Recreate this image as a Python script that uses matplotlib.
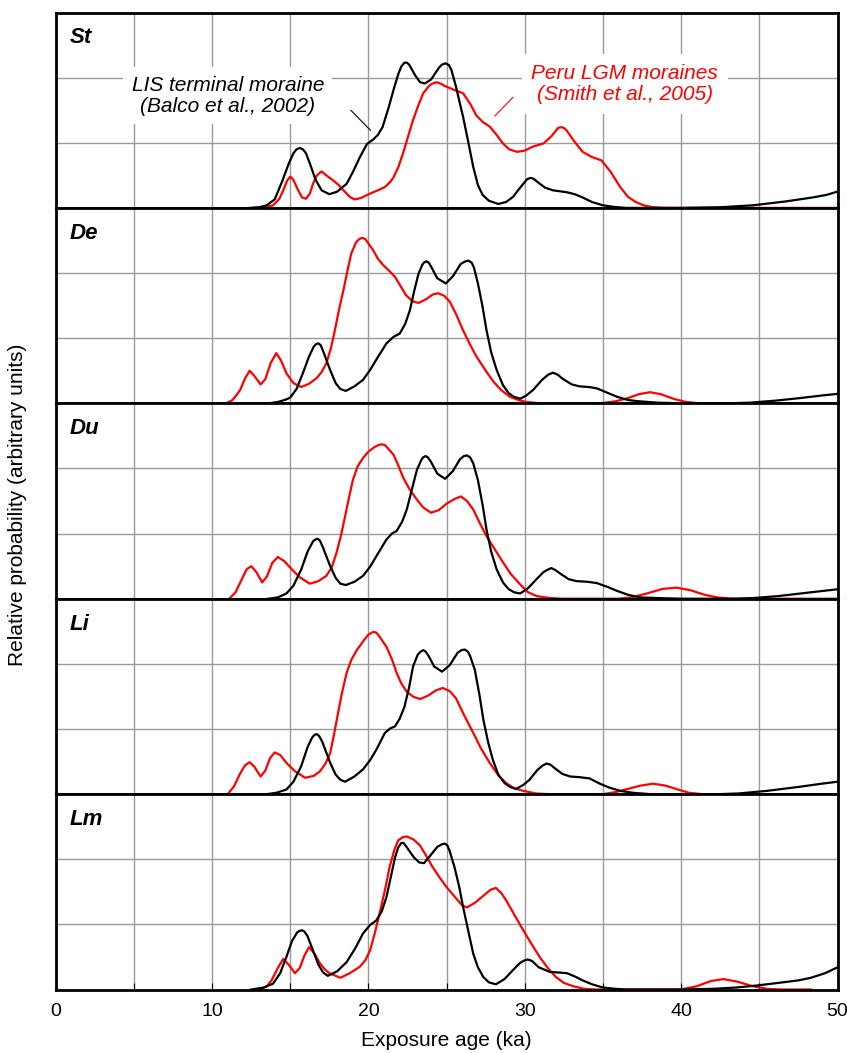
import matplotlib
matplotlib.use('Agg')
import matplotlib.pyplot as plt
from matplotlib.ticker import MultipleLocator

plt.rcParams['font.family'] = ['Liberation Sans', 'DejaVu Sans']

# panel names, top to bottom
panels = ['St', 'De', 'Du', 'Li', 'Lm']

# ---- St ----
st_black_x = [12.4, 13.0, 13.5, 14.0, 14.5, 14.9, 15.2, 15.4, 15.6, 15.8, 16.0, 16.3, 16.6, 17.0, 17.5,
              18.0, 18.6, 19.0, 19.45, 19.9, 20.3, 20.6, 20.9, 21.3, 21.6, 21.9, 22.1, 22.3, 22.45, 22.6,
              23.0, 23.3, 23.6, 24.0, 24.5, 24.7, 24.95, 25.15, 25.3, 25.6, 25.85, 26.05, 26.4, 26.7,
              27.0, 27.3, 27.7, 28.3, 28.8, 29.25, 29.6, 29.9, 30.15, 30.35, 30.55, 30.8, 31.3, 31.8,
              32.7, 33.2, 33.7, 34.3, 35.0, 35.7, 36.5, 40.0, 42.5, 44.6, 46.7, 48.4, 49.3, 50.0]
st_black_y = [0.0, 0.01, 0.04, 0.13, 0.42, 0.68, 0.84, 0.90, 0.92, 0.90, 0.84, 0.65, 0.44, 0.27, 0.21,
              0.25, 0.37, 0.55, 0.78, 0.98, 1.05, 1.12, 1.24, 1.55, 1.81, 2.05, 2.17, 2.23, 2.23, 2.20,
              2.03, 1.93, 1.91, 1.97, 2.15, 2.20, 2.22, 2.19, 2.12, 1.86, 1.60, 1.40, 0.99, 0.63,
              0.35, 0.20, 0.11, 0.06, 0.09, 0.17, 0.28, 0.37, 0.44, 0.46, 0.45, 0.40, 0.31, 0.27,
              0.24, 0.21, 0.16, 0.09, 0.04, 0.015, 0.0, 0.0, 0.01, 0.04, 0.10, 0.16, 0.20, 0.25]
st_red_x = [12.6, 13.4, 13.9, 14.3, 14.55, 14.8, 15.0, 15.2, 15.5, 15.75, 16.0, 16.25, 16.45, 16.7, 17.0,
            17.3, 17.75, 18.1, 18.4, 18.8, 19.1, 19.5, 20.1, 20.6, 21.05, 21.4, 21.6, 21.9, 22.2, 22.5,
            22.85, 23.2, 23.5, 23.9, 24.1, 24.35, 24.6, 24.9, 25.4, 26.05, 26.5, 26.9, 27.3, 27.75, 28.2,
            28.6, 29.0, 29.5, 30.0, 30.5, 31.2, 31.7, 32.0, 32.15, 32.35, 32.55, 32.7, 33.2, 33.7, 34.3,
            34.9, 35.5, 36.1, 36.6, 37.1, 37.6, 38.2, 39.0, 50.0]
st_red_y = [0.0, 0.01, 0.04, 0.14, 0.27, 0.42, 0.48, 0.43, 0.27, 0.16, 0.14, 0.22, 0.37, 0.50, 0.56,
            0.50, 0.42, 0.35, 0.27, 0.17, 0.13, 0.15, 0.22, 0.27, 0.32, 0.40, 0.47, 0.62, 0.83, 1.07,
            1.35, 1.58, 1.76, 1.88, 1.91, 1.93, 1.91, 1.87, 1.82, 1.76, 1.60, 1.42, 1.32, 1.25, 1.12,
            0.99, 0.90, 0.86, 0.88, 0.94, 0.99, 1.10, 1.19, 1.23, 1.24, 1.22, 1.18, 1.01, 0.86, 0.78,
            0.73, 0.55, 0.32, 0.17, 0.09, 0.04, 0.01, 0.0, 0.0]

# ---- De ----
de_black_x = [13.6, 14.2, 14.75, 15.0, 15.4, 15.8, 16.2, 16.5, 16.65, 16.8, 16.95, 17.1, 17.55, 17.9, 18.2,
              18.55, 19.1, 19.65, 20.1, 20.5, 21.15, 21.6, 22.0, 22.35, 22.65, 22.95, 23.2, 23.45, 23.55,
              23.7, 23.85, 24.0, 24.4, 24.95, 25.4, 25.9, 26.2, 26.4, 26.6, 26.75, 27.0, 27.3, 27.55,
              27.85, 28.2, 28.6, 28.95, 29.3, 29.7, 30.1, 30.55, 31.1, 31.5, 31.8, 32.1, 32.4, 33.0, 33.5,
              34.1, 34.6, 35.3, 35.9, 36.6, 37.35, 38.5, 40.0, 43.0, 44.4, 46.0, 47.6, 49.0, 50.0]
de_black_y = [0.0, 0.02, 0.06, 0.09, 0.22, 0.46, 0.72, 0.87, 0.91, 0.92, 0.89, 0.80, 0.51, 0.31, 0.22,
              0.19, 0.26, 0.36, 0.51, 0.67, 0.92, 1.02, 1.07, 1.22, 1.43, 1.75, 1.99, 2.13, 2.16,
              2.18, 2.16, 2.10, 1.92, 1.84, 1.95, 2.14, 2.18, 2.19, 2.16, 2.08, 1.84, 1.48, 1.12,
              0.78, 0.51, 0.28, 0.16, 0.10, 0.07, 0.12, 0.21, 0.36, 0.44, 0.47, 0.44, 0.38, 0.29, 0.26,
              0.25, 0.23, 0.16, 0.10, 0.05, 0.03, 0.01, 0.0, 0.0, 0.01, 0.04, 0.08, 0.12, 0.145]
de_red_x = [10.9, 11.3, 11.6, 11.8, 12.1, 12.4, 12.7, 13.1, 13.4, 13.75, 14.1, 14.4, 14.75, 15.2, 15.7,
            16.2, 16.7, 17.0, 17.3, 17.6, 17.85, 18.1, 18.4, 18.65, 18.9, 19.2, 19.4, 19.6, 19.8, 19.95,
            20.3, 20.6, 20.95, 21.3, 21.7, 22.05, 22.4, 22.8, 23.2, 23.7, 24.1, 24.45, 24.85, 25.2, 25.6,
            26.05, 26.5, 26.9, 27.5, 28.0, 28.5, 29.05, 29.6, 30.1, 31.0, 34.8, 35.8, 36.6, 37.3, 38.0,
            38.7, 39.5, 40.3, 41.2, 50.0]
de_red_y = [0.0, 0.05, 0.14, 0.21, 0.38, 0.50, 0.42, 0.29, 0.37, 0.62, 0.77, 0.66, 0.46, 0.31, 0.25,
            0.30, 0.39, 0.48, 0.61, 0.85, 1.12, 1.42, 1.74, 2.03, 2.30, 2.47, 2.52, 2.54, 2.52, 2.47,
            2.35, 2.22, 2.12, 2.04, 1.94, 1.80, 1.66, 1.57, 1.54, 1.60, 1.67, 1.69, 1.65, 1.56, 1.37,
            1.12, 0.90, 0.72, 0.50, 0.33, 0.20, 0.10, 0.05, 0.02, 0.0, 0.0, 0.03, 0.08, 0.14, 0.17,
            0.14, 0.07, 0.02, 0.0, 0.0]

# ---- Du ----
du_black_x = [13.6, 14.2, 14.75, 15.2, 15.7, 16.1, 16.45, 16.6, 16.75, 16.9, 17.1, 17.55, 17.9, 18.2, 18.55,
              19.1, 19.65, 20.1, 20.5, 21.15, 21.5, 21.8, 22.15, 22.45, 22.8, 23.1, 23.4, 23.5, 23.65,
              23.8, 24.0, 24.4, 24.9, 25.4, 25.85, 26.1, 26.3, 26.5, 26.7, 27.0, 27.3, 27.55, 27.85,
              28.2, 28.6, 28.95, 29.3, 29.7, 30.2, 30.75, 31.2, 31.5, 31.7, 31.95, 32.3, 32.8, 33.3,
              34.0, 34.6, 35.3, 35.9, 36.6, 37.35, 38.5, 40.0, 43.5, 44.6, 46.2, 48.0, 50.0]
du_black_y = [0.0, 0.02, 0.08, 0.20, 0.45, 0.72, 0.88, 0.91, 0.92, 0.89, 0.78, 0.50, 0.32, 0.23, 0.21,
              0.26, 0.35, 0.49, 0.65, 0.91, 1.00, 1.04, 1.18, 1.37, 1.70, 1.98, 2.14, 2.17, 2.19,
              2.17, 2.10, 1.92, 1.84, 1.96, 2.14, 2.19, 2.20, 2.17, 2.08, 1.82, 1.44, 1.06, 0.72,
              0.45, 0.25, 0.15, 0.10, 0.08, 0.16, 0.30, 0.41, 0.45, 0.47, 0.44, 0.38, 0.30, 0.27,
              0.26, 0.24, 0.18, 0.12, 0.06, 0.02, 0.01, 0.0, 0.0, 0.01, 0.04, 0.09, 0.145]
du_red_x = [11.1, 11.5, 11.9, 12.2, 12.5, 12.85, 13.2, 13.5, 13.85, 14.2, 14.6, 15.1, 15.6, 16.25, 16.8,
            17.3, 17.65, 17.95, 18.25, 18.5, 18.75, 19.0, 19.3, 19.65, 20.0, 20.4, 20.65, 20.85, 21.05,
            21.2, 21.6, 21.9, 22.2, 22.6, 23.1, 23.5, 24.0, 24.5, 25.0, 25.5, 25.9, 26.3, 26.7, 27.1,
            27.55, 28.1, 28.6, 29.1, 29.7, 30.2, 30.75, 31.6, 32.5, 36.0, 36.8, 37.8, 38.8, 39.7, 40.6,
            41.5, 42.3, 43.2, 50.0]
du_red_y = [0.0, 0.10, 0.30, 0.45, 0.50, 0.40, 0.25, 0.34, 0.55, 0.64, 0.58, 0.45, 0.33, 0.23, 0.27,
            0.35, 0.48, 0.70, 0.98, 1.26, 1.55, 1.82, 2.03, 2.16, 2.26, 2.33, 2.36, 2.37, 2.36,
            2.32, 2.21, 2.05, 1.87, 1.69, 1.52, 1.40, 1.32, 1.36, 1.46, 1.53, 1.57, 1.50, 1.37, 1.17,
            0.96, 0.75, 0.56, 0.38, 0.22, 0.10, 0.04, 0.01, 0.0, 0.0, 0.02, 0.08, 0.15, 0.17, 0.13,
            0.06, 0.02, 0.0, 0.0]

# ---- Li ----
li_black_x = [13.5, 14.1, 14.75, 15.2, 15.7, 16.1, 16.4, 16.55, 16.7, 16.85, 17.05, 17.55, 17.9, 18.2, 18.5,
              19.1, 19.65, 20.1, 20.5, 21.05, 21.4, 21.7, 22.0, 22.3, 22.6, 22.85, 23.15, 23.35, 23.5,
              23.65, 23.85, 24.2, 24.7, 25.2, 25.7, 25.95, 26.15, 26.35, 26.5, 26.8, 27.1, 27.35, 27.65,
              27.95, 28.3, 28.7, 29.05, 29.45, 29.9, 30.3, 30.8, 31.15, 31.4, 31.65, 31.9, 32.4, 32.9,
              33.5, 34.15, 34.8, 35.4, 36.1, 36.9, 38.0, 42.5, 43.7, 45.5, 47.5, 49.0, 50.0]
li_black_y = [0.0, 0.02, 0.07, 0.19, 0.43, 0.72, 0.87, 0.91, 0.92, 0.89, 0.80, 0.48, 0.30, 0.22, 0.19,
              0.27, 0.38, 0.52, 0.68, 0.94, 1.01, 1.04, 1.16, 1.34, 1.64, 1.96, 2.14, 2.19, 2.21,
              2.19, 2.12, 1.96, 1.88, 1.98, 2.17, 2.21, 2.22, 2.19, 2.12, 1.91, 1.52, 1.14, 0.80,
              0.53, 0.30, 0.17, 0.11, 0.08, 0.14, 0.22, 0.37, 0.44, 0.47, 0.45, 0.40, 0.31, 0.27,
              0.26, 0.24, 0.16, 0.10, 0.05, 0.02, 0.0, 0.0, 0.01, 0.05, 0.11, 0.16, 0.19]
li_red_x = [11.0, 11.4, 11.8, 12.1, 12.4, 12.7, 13.1, 13.4, 13.7, 14.0, 14.35, 14.75, 15.3, 15.95, 16.5,
            16.9, 17.25, 17.55, 17.8, 18.05, 18.3, 18.6, 18.9, 19.25, 19.7, 20.0, 20.3, 20.5, 20.7, 21.15,
            21.5, 21.8, 22.1, 22.45, 22.9, 23.3, 23.8, 24.3, 24.75, 25.2, 25.6, 26.1, 26.7, 27.2, 27.75,
            28.3, 28.8, 29.3, 29.9, 30.7, 31.5, 35.0, 35.8, 36.6, 37.4, 38.2, 39.0, 39.8, 40.5, 41.3, 50.0]
li_red_y = [0.0, 0.12, 0.32, 0.44, 0.49, 0.42, 0.27, 0.36, 0.55, 0.64, 0.60, 0.48, 0.35, 0.25, 0.28,
            0.35, 0.47, 0.63, 0.92, 1.24, 1.55, 1.86, 2.06, 2.21, 2.36, 2.45, 2.49, 2.48, 2.42, 2.26,
            2.07, 1.86, 1.70, 1.57, 1.49, 1.46, 1.51, 1.59, 1.63, 1.58, 1.47, 1.22, 0.94, 0.70, 0.48,
            0.29, 0.17, 0.09, 0.05, 0.01, 0.0, 0.0, 0.03, 0.08, 0.13, 0.16, 0.13, 0.07, 0.02, 0.0, 0.0]

# ---- Lm ----
lm_black_x = [12.5, 13.3, 13.9, 14.35, 14.75, 15.1, 15.45, 15.6, 15.75, 15.9, 16.1, 16.45, 16.8, 17.1, 17.4,
              18.0, 18.6, 19.15, 19.65, 20.1, 20.5, 20.85, 21.15, 21.45, 21.7, 21.9, 22.1, 22.25, 22.4,
              22.9, 23.25, 23.55, 23.9, 24.4, 24.7, 24.9, 25.05, 25.2, 25.5, 25.8, 26.05, 26.4, 26.7,
              27.0, 27.35, 27.7, 28.15, 28.7, 29.25, 29.7, 30.0, 30.2, 30.45, 30.9, 31.6, 32.2, 32.7,
              33.2, 33.7, 34.3, 35.0, 35.8, 36.5, 40.0, 42.0, 43.5, 44.8, 46.5, 47.5, 48.3, 49.2, 50.0]
lm_black_y = [0.0, 0.03, 0.09, 0.25, 0.50, 0.74, 0.88, 0.90, 0.91, 0.89, 0.82, 0.60, 0.38, 0.26, 0.21,
              0.28, 0.42, 0.63, 0.86, 0.99, 1.06, 1.20, 1.42, 1.75, 2.03, 2.18, 2.25, 2.25, 2.20,
              2.03, 1.95, 1.94, 2.04, 2.19, 2.23, 2.24, 2.21, 2.12, 1.88, 1.58, 1.27, 0.88, 0.55,
              0.34, 0.19, 0.11, 0.08, 0.16, 0.30, 0.41, 0.45, 0.46, 0.44, 0.34, 0.27, 0.26, 0.25,
              0.20, 0.14, 0.08, 0.03, 0.01, 0.0, 0.0, 0.01, 0.03, 0.06, 0.11, 0.14, 0.18, 0.25, 0.34]
lm_red_x = [13.05, 13.5, 13.8, 14.2, 14.55, 14.9, 15.3, 15.6, 15.9, 16.2, 16.55, 16.9, 17.2, 17.5, 18.2,
            18.8, 19.45, 19.8, 20.1, 20.4, 20.7, 21.05, 21.35, 21.65, 21.9, 22.2, 22.45, 22.9, 23.3,
            23.7, 24.1, 24.55, 25.0, 25.6, 26.0, 26.3, 26.8, 27.35, 27.8, 28.15, 28.5, 28.8, 29.3, 29.9,
            30.4, 30.95, 31.5, 32.0, 32.5, 33.1, 33.8, 34.6, 40.0, 41.0, 41.9, 42.7, 43.6, 44.6, 45.5,
            46.5, 48.3]
lm_red_y = [0.0, 0.05, 0.14, 0.33, 0.47, 0.38, 0.25, 0.33, 0.52, 0.65, 0.55, 0.40, 0.31, 0.25, 0.18,
            0.25, 0.35, 0.45, 0.60, 0.86, 1.16, 1.52, 1.88, 2.14, 2.29, 2.34, 2.35, 2.30, 2.21,
            2.05, 1.88, 1.72, 1.57, 1.40, 1.29, 1.26, 1.33, 1.44, 1.53, 1.56, 1.48, 1.37, 1.16, 0.91,
            0.71, 0.50, 0.32, 0.19, 0.10, 0.05, 0.01, 0.0, 0.0, 0.05, 0.13, 0.16, 0.12, 0.05, 0.01,
            0.0, 0.0]

black_x = [st_black_x, de_black_x, du_black_x, li_black_x, lm_black_x]
black_y = [st_black_y, de_black_y, du_black_y, li_black_y, lm_black_y]
red_x = [st_red_x, de_red_x, du_red_x, li_red_x, lm_red_x]
red_y = [st_red_y, de_red_y, du_red_y, li_red_y, lm_red_y]

# annotations in the St panel (text position, leader line start/end, data coords)
lis_label = 'LIS terminal moraine\n(Balco et al., 2002)'
lis_text_pos = (11.0, 1.72)
lis_line = [(18.87, 1.50), (20.13, 1.19)]
peru_label = 'Peru LGM moraines\n(Smith et al., 2005)'
peru_text_pos = (36.4, 1.90)
peru_line = [(29.25, 1.70), (28.08, 1.41)]

GRID = '#9a9a9a'

fig = plt.figure(figsize=(8.47, 10.53), dpi=100)
left, right = 55.8 / 847, 837.5 / 847
top, bottom = 1 - 12.5 / 1053, 1 - 989.5 / 1053
h = (top - bottom) / len(panels)

axes = []
for i, name in enumerate(panels):
    ax = fig.add_axes([left, top - (i + 1) * h, right - left, h])
    axes.append(ax)
    ax.set_xlim(0, 50)
    ax.set_ylim(0, 3)
    ax.xaxis.set_major_locator(MultipleLocator(10))
    ax.xaxis.set_minor_locator(MultipleLocator(5))
    ax.set_yticks([1, 2])
    ax.set_yticklabels([])
    ax.tick_params(axis='y', length=0)
    ax.grid(True, which='both', axis='x', color=GRID, lw=1.0)
    ax.grid(True, axis='y', color=GRID, lw=1.0)
    ax.set_axisbelow(True)
    for sp in ax.spines.values():
        sp.set_linewidth(2.0)

    ax.plot(red_x[i], red_y[i], color='red', lw=1.6, solid_joinstyle='round')
    ax.plot(black_x[i], black_y[i], color='black', lw=1.6, solid_joinstyle='round')

    ax.text(0.018, 0.87, name, transform=ax.transAxes, fontsize=16, fontweight='bold',
            fontstyle='italic', ha='left', va='center')

    if i < len(panels) - 1:
        ax.tick_params(axis='x', which='both', length=0, labelbottom=False)
    else:
        ax.tick_params(axis='x', which='both', direction='in', length=5, width=0.8,
                       labelsize=14, pad=10)

st = axes[0]
st.text(*lis_text_pos, lis_label, fontsize=15, fontstyle='italic', ha='center', va='center',
        linespacing=1.15, bbox=dict(facecolor='white', edgecolor='none', pad=6), zorder=4)
st.text(*peru_text_pos, peru_label, fontsize=15, fontstyle='italic', color='red', ha='center',
        va='center', linespacing=1.15, bbox=dict(facecolor='white', edgecolor='none', pad=7), zorder=4)
st.annotate('', xy=lis_line[1], xytext=lis_line[0],
            arrowprops=dict(arrowstyle='-', color='black', lw=0.8, shrinkA=0, shrinkB=0))
st.annotate('', xy=peru_line[1], xytext=peru_line[0],
            arrowprops=dict(arrowstyle='-', color='red', lw=0.8, shrinkA=0, shrinkB=0))

fig.text((left + right) / 2, 1 - 1040 / 1053, 'Exposure age (ka)', fontsize=15,
         ha='center', va='center')
fig.text(18 / 847, 1 - 505 / 1053, 'Relative probability (arbitrary units)', fontsize=15,
         rotation=90, ha='center', va='center')

fig.savefig('out.png', dpi=100)
